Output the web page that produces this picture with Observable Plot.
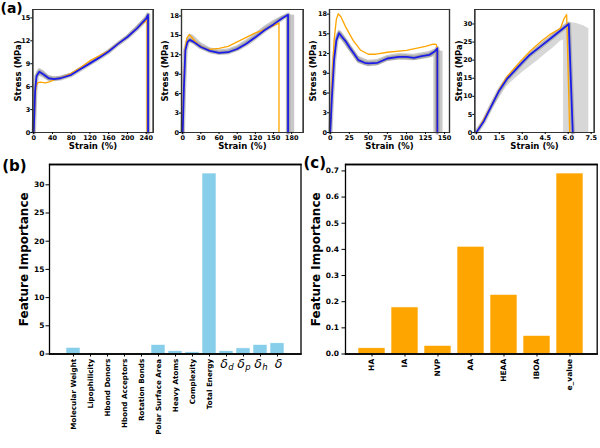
<!DOCTYPE html>
<html><head><meta charset="utf-8">
<script src="https://cdn.jsdelivr.net/npm/d3@7"></script>
<script src="https://cdn.jsdelivr.net/npm/@observablehq/plot@0.6"></script>
<style>
body{margin:0;background:#fff;}
#fig{position:relative;width:600px;height:448px;overflow:hidden;background:#fff;}
#fig svg{position:absolute;overflow:visible;background:transparent;font-family:"DejaVu Sans",sans-serif;font-weight:bold;}
</style></head><body><div id="fig"></div>
<script>
// ---------- (a) panel 1 ----------
const p1BlueStrain = [0,3,6,12,21,32,43,57,80,100,120,140,160,180,200,220,240,244,244];
const p1BlueStress = [0,5.5,7.4,7.95,7.6,7.1,7.0,7.1,7.55,8.3,9.05,9.8,10.6,11.6,12.5,13.6,14.9,15.4,0];
const p1OrangeStrain = [0,3,5,8.5,14,25,35,43,60,80,100,120,140,160,180,200,220,240,242,242];
const p1OrangeStress = [0,4.6,6.1,6.5,6.6,6.5,6.65,6.9,7.2,7.75,8.5,9.4,10.05,10.7,11.6,12.5,13.6,14.65,14.9,0];
const p1BandStrain = [0,3,6,12,21,32,43,57,80,120,160,200,240,243,243,248,248];
const p1BandLow  = [0,4.6,6.8,7.4,7.1,6.7,6.7,6.85,7.35,8.85,10.4,12.3,14.6,15.0,0,0,0];
const p1BandHigh = [0,6.2,7.9,8.4,8.1,7.5,7.3,7.35,7.75,9.25,10.8,12.7,15.2,15.6,15.6,15.5,0];
const p1XTicks = [0,40,80,120,160,200,240];
const p1YTicks = [0,3,6,9,12,15];

// ---------- (a) panel 2 ----------
const p2BlueStrain = [0,2,4.4,8,11.6,18,30,45,60,75,90,105,120,135,150,165,174,174];
const p2BlueStress = [0,7,12.7,14.0,14.3,14.0,13.2,12.6,12.3,12.4,12.9,13.7,14.7,15.8,16.7,17.7,18.2,0];
const p2OrangeStrain = [0,2,4,7,11,16,25,40,60,75,90,105,120,135,150,159,159];
const p2OrangeStress = [0,8,13,14.6,15.1,14.6,13.6,12.8,13.0,13.3,14.0,14.7,15.4,15.9,16.5,16.9,0];
const p2BandStrain = [0,4.4,8,12,18,30,45,60,75,90,105,120,135,150,165,172,172,185,185];
const p2BandLow  = [0,12.2,13.6,13.9,13.7,12.9,12.3,12.0,12.1,12.6,13.4,14.4,15.5,16.4,17.4,17.8,0,0,0];
const p2BandHigh = [0,13.4,14.8,15.2,15.0,13.9,13.1,12.8,12.9,13.4,14.3,15.3,16.4,17.3,18.0,18.2,18.2,18.1,0];
const p2XTicks = [0,30,60,90,120,150,180];
const p2YTicks = [0,3,6,9,12,15,18];

// ---------- (a) panel 3 ----------
const p3BlueStrain = [0,2,5,8,11.4,15,20,25,31,37,45,50,62,75,90,100,110,120,130,137,140.5,140.5];
const p3BlueStress = [0,5,11,14,15.1,14.6,13.9,13.0,12.0,11.0,10.6,10.5,10.6,11.25,11.5,11.5,11.35,11.6,11.8,12.3,12.8,0];
const p3OrangeStrain = [0,2,5,8,10.5,14,20,30,40,50,60,75,100,125,135,139,140,140];
const p3OrangeStress = [0,7,14,17.2,18.05,17.6,16.1,14.0,12.5,11.9,11.9,12.2,12.5,13.1,13.45,13.4,13.0,0];
const p3BandStrain = [0,5,8,11.4,15,20,25,37,50,62,75,90,110,130,136,136,148,148];
const p3BandLow  = [0,10.3,13.4,14.4,14.0,13.2,12.4,10.5,10.0,10.1,10.8,11.0,10.9,11.3,11.5,0,0,0];
const p3BandHigh = [0,11.7,14.6,15.6,15.3,14.5,13.6,11.6,11.0,11.1,11.7,12.0,11.9,12.3,12.6,12.6,12.3,0];
const p3XTicks = [0,25,50,75,100,125,150];
const p3YTicks = [0,3,6,9,12,15,18];

// ---------- (a) panel 4 ----------
const p4BlueStrain = [0,0.5,0.93,1.48,2.0,2.9,3.5,4.2,4.85,5.5,6.04,6.3];
const p4BlueStress = [0,3.2,6.9,11.5,14.8,18.9,21.5,23.8,26.0,28.2,30.0,0];
const p4OrangeStrain = [0,0.5,1.0,1.5,2.0,2.9,3.54,4.2,4.85,5.5,5.72,5.9,6.1];
const p4OrangeStress = [0,3.7,7.6,11.9,15.4,19.8,22.6,25.1,27.2,28.8,31.4,32.6,0];
const p4BandStrain = [0,1,2,3,4,4.5,5,5.5,5.7,5.7,6.0,6.5,7.0,7.35,7.35];
const p4BandLow  = [0,6.2,12.8,16.6,19.8,21.6,23.3,25.2,25.6,0,0,0,0,0,0];
const p4BandHigh = [0,7.6,15.2,19.8,23.8,25.6,27.2,29.0,29.8,29.8,30.4,30.2,29.5,28.7,0];
const p4XTicks = [0,1.5,3.0,4.5,6.0,7.5];
const p4YTicks = [0,5,10,15,20,25,30];

// ---------- (b) ----------
const bFeatures = ["Molecular Weight","Lipophilicity","Hbond Donors","Hbond Acceptors","Rotation Bonds","Polar Surface Area","Heavy Atoms","Complexity","Total Energy","δd","δp","δh","δ"];
const bImportance = [1.1,0,0,0,0.08,1.6,0.5,0.3,32.0,0.5,1.0,1.6,1.9];
const bDeltaKeys = ["δd","δp","δh","δ"];
const bDeltaSubs = ["d","p","h",""];
const bYTicks = [0,5,10,15,20,25,30];

// ---------- (c) ----------
const cFeatures = ["HA","IA","NVP","AA","HEAA","IBOA","e_value"];
const cImportance = [0.022,0.178,0.031,0.41,0.226,0.069,0.69];
const cYTicks = [0,0.1,0.2,0.3,0.4,0.5,0.6,0.7];

const fig = document.getElementById("fig");
function place(svg, left, top) { svg.style.left = left + "px"; svg.style.top = top + "px"; fig.appendChild(svg); }
// axes box drawn as four frame edges (line elements)
const box = (stroke, strokeWidth) => ["top", "right", "bottom", "left"].map(anchor => Plot.frame({anchor, stroke, strokeWidth}));

function stressPanel(o) {
  const bi = d3.range(o.bx.length), oi = d3.range(o.ox.length), gi = d3.range(o.gx.length);
  const marks = [
    Plot.areaY(gi, {x: i => o.gx[i], y1: i => o.glo[i], y2: i => o.ghi[i], fill: "#9a9a9a", fillOpacity: o.bandOpacity}),
    Plot.line(bi, {x: i => o.bx[i], y: i => o.by[i], stroke: "#808080", strokeWidth: 4.5, strokeOpacity: 0.45}),
    Plot.line(oi, {x: i => o.ox[i], y: i => o.oy[i], stroke: "#ffa500", strokeWidth: 1.3}),
    Plot.line(bi, {x: i => o.bx[i], y: i => o.by[i], stroke: "#1c1ce8", strokeWidth: 1.8}),
    Plot.ruleX(o.xDomain, {stroke: "#333", strokeWidth: 1.2}),
    Plot.ruleY(o.yDomain, {stroke: "#333", strokeWidth: 1.2}),
    ...box("#333", 1.2),
    Plot.axisX({ticks: o.xTicks, tickFormat: o.xFmt, tickSize: 2, tickPadding: 0.5, fontSize: 6.5, fontWeight: "bold", label: null}),
    Plot.axisY({ticks: o.yTicks, tickSize: 2, tickPadding: 0.5, fontSize: 6.5, fontWeight: "bold", label: null}),
    Plot.text(["Strain (%)"], {text: d => d, frameAnchor: "bottom", dy: 13.7, textAnchor: "middle", lineAnchor: "middle", fontSize: 8.5, fontWeight: "bold"}),
    Plot.text(["Stress (MPa)"], {text: d => d, frameAnchor: "left", dx: o.yLabelDx, rotate: -90, textAnchor: "middle", lineAnchor: "middle", fontSize: 8.5, fontWeight: "bold"})
  ];
  if (o.tag) marks.push(Plot.text([o.tag], {text: d => d, frameAnchor: "top-left", dx: o.tagDx, dy: -0.5, textAnchor: "start", lineAnchor: "middle", fontSize: 14, fontWeight: "bold"}));
  const svg = Plot.plot({
    width: o.width, height: 152,
    marginLeft: o.ml, marginRight: o.mr, marginTop: 9, marginBottom: 20,
    x: {domain: o.xDomain}, y: {domain: o.yDomain},
    marks
  });
  place(svg, o.left, 0);
}

stressPanel({left: 0, width: 160, ml: 32.3, mr: 7.3, xDomain: [-2, 255], yDomain: [0, 16.1],
  bx: p1BlueStrain, by: p1BlueStress, ox: p1OrangeStrain, oy: p1OrangeStress,
  gx: p1BandStrain, glo: p1BandLow, ghi: p1BandHigh, xTicks: p1XTicks, yTicks: p1YTicks,
  yLabelDx: -15, tag: "(a)", tagDx: -32.3, bandOpacity: 0.5});
stressPanel({left: 150, width: 155, ml: 31, mr: 2.3, xDomain: [-2, 199], yDomain: [0, 19.0],
  bx: p2BlueStrain, by: p2BlueStress, ox: p2OrangeStrain, oy: p2OrangeStress,
  gx: p2BandStrain, glo: p2BandLow, ghi: p2BandHigh, xTicks: p2XTicks, yTicks: p2YTicks,
  yLabelDx: -16, bandOpacity: 0.55});
stressPanel({left: 305, width: 150, ml: 24, mr: 6, xDomain: [-1, 156.5], yDomain: [0, 18.7],
  bx: p3BlueStrain, by: p3BlueStress, ox: p3OrangeStrain, oy: p3OrangeStress,
  gx: p3BandStrain, glo: p3BandLow, ghi: p3BandHigh, xTicks: p3XTicks, yTicks: p3YTicks,
  yLabelDx: -16.3, bandOpacity: 0.55});
stressPanel({left: 455, width: 145, ml: 19.3, mr: 6.3, xDomain: [-0.1, 7.7], yDomain: [0, 34],
  bx: p4BlueStrain, by: p4BlueStress, ox: p4OrangeStrain, oy: p4OrangeStress,
  gx: p4BandStrain, glo: p4BandLow, ghi: p4BandHigh, xTicks: p4XTicks, yTicks: p4YTicks,
  xFmt: d3.format(".1f"), yLabelDx: -16, bandOpacity: 0.4});

// ---------- (b) ----------
{
  const idx = d3.range(bFeatures.length);
  const subIdx = bDeltaKeys.map((k, i) => i).filter(i => bDeltaSubs[i] !== "");
  const plainIdx = bDeltaKeys.map((k, i) => i).filter(i => bDeltaSubs[i] === "");
  const svg = Plot.plot({
    width: 303, height: 293,
    marginLeft: 49, marginRight: 2.5, marginTop: 9, marginBottom: 94.5,
    x: {type: "band", domain: bFeatures, paddingInner: 0.15, paddingOuter: 0.615},
    y: {domain: [0, 33.6]},
    marks: [
      Plot.barY(idx, {x: i => bFeatures[i], y: i => bImportance[i], fill: "#87ceeb", stroke: "white", strokeWidth: 0.6}),
      Plot.ruleY([0, 33.6], {stroke: "#000", strokeWidth: 1.3}),
      ...box("#000", 1.3),
      Plot.axisY({ticks: bYTicks, tickSize: 3.5, tickPadding: 1.5, fontSize: 7.5, fontWeight: "bold", label: null}),
      Plot.axisX({tickSize: 3, tickPadding: 1.8, tickRotate: -90, textAnchor: "end", fontSize: 7.2, fontWeight: "bold",
        tickFormat: d => bDeltaKeys.includes(d) ? "" : d, label: null}),
      Plot.text(subIdx, {x: i => bDeltaKeys[i], text: () => "δ", frameAnchor: "bottom", dx: -2.5, dy: 9.8,
        textAnchor: "middle", lineAnchor: "middle", fontSize: 12.5, fontStyle: "italic", fontWeight: "normal"}),
      Plot.text(subIdx, {x: i => bDeltaKeys[i], text: i => bDeltaSubs[i], frameAnchor: "bottom", dx: 4.5, dy: 13.5,
        textAnchor: "middle", lineAnchor: "middle", fontSize: 8.5, fontStyle: "italic", fontWeight: "normal"}),
      Plot.text(plainIdx, {x: i => bDeltaKeys[i], text: () => "δ", frameAnchor: "bottom", dx: 1, dy: 9.8,
        textAnchor: "middle", lineAnchor: "middle", fontSize: 12.5, fontStyle: "italic", fontWeight: "normal"}),
      Plot.text(["(b)"], {text: d => d, frameAnchor: "top-left", dx: -47.3, dy: 1.5, textAnchor: "start", lineAnchor: "middle", fontSize: 15, fontWeight: "bold"}),
      Plot.text(["Feature Importance"], {text: d => d, frameAnchor: "left", dx: -25, rotate: -90, textAnchor: "middle", lineAnchor: "middle", fontSize: 12, fontWeight: "bold"})
    ]
  });
  place(svg, 0, 155);
}

// ---------- (c) ----------
{
  const idx = d3.range(cFeatures.length);
  const svg = Plot.plot({
    width: 300, height: 293,
    marginLeft: 45, marginRight: 3.3, marginTop: 9, marginBottom: 94.5,
    x: {type: "band", domain: cFeatures, paddingInner: 0.18, paddingOuter: 0.33},
    y: {domain: [0, 0.7245]},
    marks: [
      Plot.barY(idx, {x: i => cFeatures[i], y: i => cImportance[i], fill: "#ffa500", stroke: "white", strokeWidth: 0.6}),
      Plot.ruleY([0, 0.7245], {stroke: "#000", strokeWidth: 1.3}),
      ...box("#000", 1.3),
      Plot.axisY({ticks: cYTicks, tickFormat: d3.format(".1f"), tickSize: 3.5, tickPadding: 3, fontSize: 7.5, fontWeight: "bold", label: null}),
      Plot.axisX({tickSize: 3, tickPadding: 1.8, tickRotate: -90, textAnchor: "end", fontSize: 7.5, fontWeight: "bold", label: null}),
      Plot.text(["(c)"], {text: d => d, frameAnchor: "top-left", dx: -42, dy: -1, textAnchor: "start", lineAnchor: "middle", fontSize: 15, fontWeight: "bold"}),
      Plot.text(["Feature Importance"], {text: d => d, frameAnchor: "left", dx: -29, rotate: -90, textAnchor: "middle", lineAnchor: "middle", fontSize: 12, fontWeight: "bold"})
    ]
  });
  place(svg, 300, 155);
}
</script></body></html>
